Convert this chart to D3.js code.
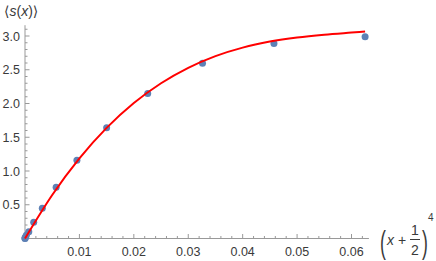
<!DOCTYPE html>
<html>
<head>
<meta charset="utf-8">
<script src="https://cdn.jsdelivr.net/npm/d3@7"></script>
<style>
  body { margin: 0; background: #fff; overflow: hidden; }
  text { font-family: "Liberation Sans", Arial, sans-serif; fill: #3a3a3a; }
</style>
</head>
<body>
<svg id="chart"></svg>
<script>
// measured points: X = (x + 1/2)^4, Y = <s(x)>
const xValues = [0, 0.00000625, 0.0000586, 0.000244, 0.000697, 0.0016, 0.00318, 0.00572, 0.00954, 0.0150, 0.02255, 0.03262, 0.04575, 0.0625];
const yValues = [0, 0.005, 0.02, 0.05, 0.10, 0.24, 0.45, 0.76, 1.16, 1.64, 2.15, 2.595, 2.89, 2.99];

// fitted curve
const fitX = [0, 0.005, 0.01, 0.015, 0.02, 0.025, 0.03, 0.035, 0.04, 0.045, 0.05, 0.055, 0.06, 0.0625];
const fitY = [0, 0.645, 1.188, 1.639, 2.007, 2.300, 2.529, 2.702, 2.828, 2.917, 2.978, 3.020, 3.051, 3.066];

const xTicks = [0.01, 0.02, 0.03, 0.04, 0.05, 0.06];
const yTicks = [0.5, 1.0, 1.5, 2.0, 2.5, 3.0];

const width = 436, height = 261;
const svg = d3.select('#chart')
    .attr('width', width)
    .attr('height', height)
    .style('display', 'block');

const x = d3.scaleLinear().domain([0, 0.06]).range([25, 351.5]);
const y = d3.scaleLinear().domain([0, 3]).range([238.5, 36]);
const xEnd = 0.0632, yEnd = 3.16;

const axisColor = '#999';

// x axis
const xAxis = svg.append('g').attr('transform', `translate(0,${y(0)})`);
xAxis.append('line')
    .attr('x1', x(0)).attr('x2', x(xEnd))
    .attr('stroke', axisColor);
xAxis.selectAll('.minor')
    .data(d3.range(1, 32).map(i => i * 0.002).filter(v => v <= xEnd))
    .enter().append('line')
    .attr('x1', d => x(d)).attr('x2', d => x(d))
    .attr('y1', 0).attr('y2', (d, i) => (i + 1) % 5 === 0 ? -4.5 : -2.5)
    .attr('stroke', axisColor);
xAxis.selectAll('.lbl')
    .data(xTicks)
    .enter().append('text')
    .attr('x', d => x(d))
    .attr('y', 17)
    .attr('text-anchor', 'middle')
    .style('font-size', '12.5px')
    .text(d => d3.format('.2f')(d));

// y axis
const yAxis = svg.append('g').attr('transform', `translate(${x(0)},0)`);
yAxis.append('line')
    .attr('y1', y(0)).attr('y2', y(yEnd))
    .attr('stroke', axisColor);
yAxis.selectAll('.minor')
    .data(d3.range(1, 32).map(i => i * 0.1).filter(v => v <= yEnd))
    .enter().append('line')
    .attr('y1', d => y(d)).attr('y2', d => y(d))
    .attr('x1', 0).attr('x2', (d, i) => (i + 1) % 5 === 0 ? 4.5 : 2.5)
    .attr('stroke', axisColor);
yAxis.selectAll('.lbl')
    .data(yTicks)
    .enter().append('text')
    .attr('x', -5)
    .attr('y', d => y(d) + 4.5)
    .attr('text-anchor', 'end')
    .style('font-size', '12.5px')
    .text(d => d3.format('.1f')(d));

// points
svg.selectAll('circle')
    .data(xValues.map((v, i) => [v, yValues[i]]))
    .enter().append('circle')
    .attr('cx', d => x(d[0]))
    .attr('cy', d => y(d[1]))
    .attr('r', 3.5)
    .attr('fill', '#5E81B5');

// fit line
const line = d3.line()
    .x(d => x(d[0]))
    .y(d => y(d[1]))
    .curve(d3.curveMonotoneX);
svg.append('path')
    .datum(fitX.map((v, i) => [v, fitY[i]]))
    .attr('d', line)
    .attr('fill', 'none')
    .attr('stroke', '#FF0000')
    .attr('stroke-width', 2);

// y label
const yl = svg.append('text')
    .attr('x', 4).attr('y', 16)
    .style('font-size', '14px');
yl.append('tspan').style('font-family', 'DejaVu Sans').text('\u27E8');
yl.append('tspan').style('font-style', 'italic').text('s');
yl.append('tspan').text('(');
yl.append('tspan').style('font-style', 'italic').text('x');
yl.append('tspan').text(')');
yl.append('tspan').style('font-family', 'DejaVu Sans').text('\u27E9');

// x label: (x + 1/2)^4
const xl = svg.append('g').attr('transform', 'translate(380,0)');
xl.append('text').attr('transform', 'translate(0,0) scale(0.55,1)')
    .attr('y', 253).style('font-size', '32px').text('(');
xl.append('text').attr('x', 7).attr('y', 245).style('font-size', '14px')
    .style('font-style', 'italic').text('x');
xl.append('text').attr('x', 18).attr('y', 245).style('font-size', '14px').text('+');
xl.append('text').attr('x', 35).attr('y', 235).attr('text-anchor', 'middle')
    .style('font-size', '14px').text('1');
xl.append('line').attr('x1', 30).attr('x2', 40).attr('y1', 239.5).attr('y2', 239.5)
    .attr('stroke', '#3a3a3a').attr('stroke-width', 1);
xl.append('text').attr('x', 35).attr('y', 255).attr('text-anchor', 'middle')
    .style('font-size', '14px').text('2');
xl.append('text').attr('transform', 'translate(42,0) scale(0.55,1)')
    .attr('y', 253).style('font-size', '32px').text(')');
xl.append('text').attr('x', 48).attr('y', 221).style('font-size', '10px').text('4');
</script>
</body>
</html>
